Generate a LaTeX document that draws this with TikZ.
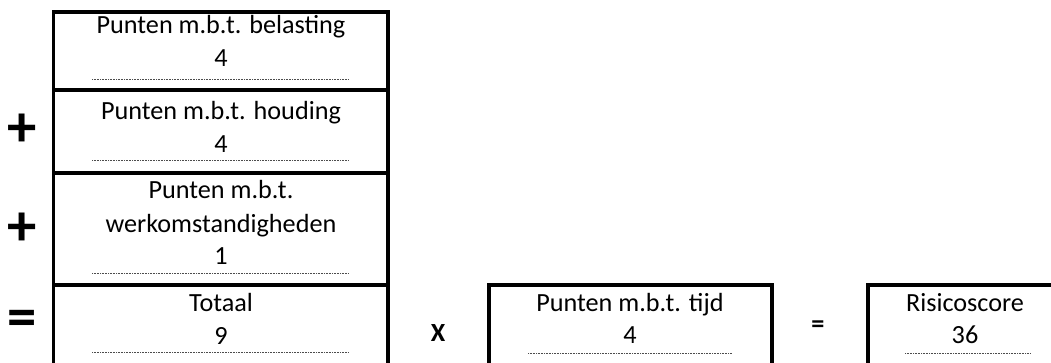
\documentclass[tikz,border=0pt]{standalone}
\usepackage{fontspec}
\setmainfont{Carlito}
\begin{document}
\begin{tikzpicture}[x=0.75pt,y=-0.75pt,
  frame/.style={draw, line width=2.6pt, rectangle, inner sep=0pt, outer sep=0pt, anchor=north west},
  lbl/.style={anchor=base, inner sep=0pt, font=\fontsize{19.65pt}{24pt}\selectfont},
  fillin/.style={draw=black!70, line width=0.6pt, dash pattern=on 0.6pt off 0.6pt},
  bigop/.style={inner sep=0pt, font=\bfseries\fontsize{44pt}{50pt}\selectfont},
  smallop/.style={inner sep=0pt, font=\bfseries\fontsize{19.65pt}{24pt}\selectfont}]
\useasboundingbox (0,0) rectangle (1051,363);
\clip (0,0) rectangle (1051,363);

% stacked score boxes
\node[frame, minimum width=250.875pt, minimum height=58.5pt]  (belasting) at (53.5,12)  {};
\node[frame, minimum width=250.875pt, minimum height=62.25pt] (houding)   at (53.5,90)  {};
\node[frame, minimum width=250.875pt, minimum height=84pt]    (werk)      at (53.5,173) {};
\node[frame, minimum width=250.875pt, minimum height=61.5pt]  (totaal)    at (53.5,285) {};
% time and result boxes
\node[frame, minimum width=212.25pt, minimum height=61.5pt] (tijd)   at (489,285) {};
\node[frame, minimum width=145.5pt,  minimum height=61.5pt] (risico) at (868,285) {};

% labels and values
\node[lbl] (t1)  at (221,34)  {Punten m.b.t. belasting};
\node[lbl] (v1)  at (221,67)  {4};
\node[lbl] (t2)  at (221,120) {Punten m.b.t. houding};
\node[lbl] (v2)  at (221,153) {4};
\node[lbl] (t3a) at (221,199) {Punten m.b.t.};
\node[lbl] (t3b) at (221,233) {werkomstandigheden};
\node[lbl] (v3)  at (221,265) {1};
\node[lbl] (t4)  at (221,312) {Totaal};
\node[lbl] (v4)  at (221,345) {9};
\node[lbl] (t5)  at (630,312) {Punten m.b.t. tijd};
\node[lbl] (v5)  at (630,344) {4};
\node[lbl] (t6)  at (965,312) {Risicoscore};
\node[lbl] (v6)  at (965,344) {36};

% dotted fill-in lines under the values
\draw[fillin] (92,79)   -- (349,79);
\draw[fillin] (92,160)  -- (349,160);
\draw[fillin] (92,273)  -- (349,273);
\draw[fillin] (92,352)  -- (349,352);
\draw[fillin] (528,353) -- (732,353);
\draw[fillin] (905,353) -- (1030,353);

% operators
\node[bigop] (plus1) at (22,130) {+};
\node[bigop] (plus2) at (22,229) {+};
\node[bigop] (eq1)   at (22,323) {=};
\node[smallop] (times) at (438,333) {X};
\node[smallop] (eq2)   at (818,327) {=};
\end{tikzpicture}
\end{document}
